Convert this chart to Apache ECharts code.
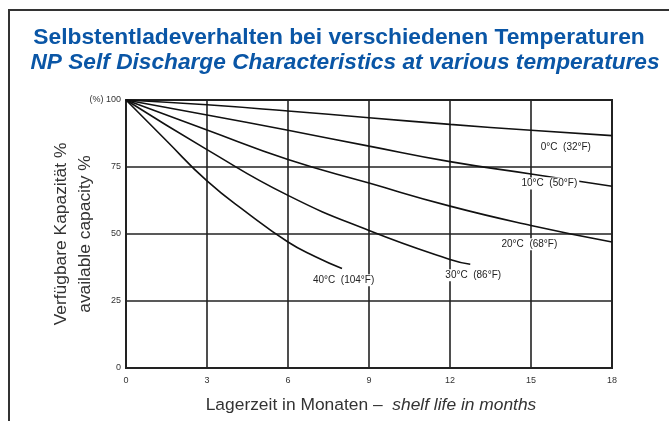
<!DOCTYPE html>
<html>
<head>
<meta charset="utf-8">
<script src="https://cdn.jsdelivr.net/npm/echarts@6/dist/echarts.min.js"></script>
<style>
  html, body { margin: 0; padding: 0; background: #fff; }
  #main { width: 669px; height: 421px; }
</style>
</head>
<body>
<div id="main"></div>
<script>
// Werte (Monate / Kapazität %)
var temps = ["0°C  (32°F)", "10°C  (50°F)", "20°C  (68°F)", "30°C  (86°F)", "40°C  (104°F)"];

var months0 = [0, 3, 6, 9, 12, 15, 18];
var cap0 = [100, 98.2, 95.9, 93.4, 90.9, 88.7, 86.7];

var months10 = [0, 3, 6, 9, 12, 15, 18];
var cap10 = [100, 94.4, 88.7, 82.8, 77.0, 72.4, 67.8];

var months20 = [0, 3, 6, 9, 12, 15, 18];
var cap20 = [100, 88.8, 77.8, 69.0, 60.4, 53.2, 47.0];

var months30 = [0, 3, 6, 9, 12, 12.75];
var cap30 = [100, 81.5, 64.4, 51.3, 40.5, 38.7];

var months40 = [0, 1.5, 3, 4.5, 6, 7, 8];
var cap40 = [100, 84.8, 69.8, 57.8, 47.0, 41.6, 37.1];

// Position der Beschriftungen (Monat, %)
var labelPos = [[16.29, 82.5], [15.68, 68.8], [14.94, 46.2], [12.86, 34.6], [8.06, 32.7]];

var xTicks = [0, 3, 6, 9, 12, 15, 18];
var yTicks = [0, 25, 50, 75, 100];

var myChart = echarts.init(document.getElementById("main"));

function pairs(xs, ys) {
  return xs.map(function (x, i) { return [x, ys[i]]; });
}

var allMonths = [months0, months10, months20, months30, months40];
var allCaps = [cap0, cap10, cap20, cap30, cap40];
var font = "Liberation Sans, Arial";

var series = allCaps.map(function (caps, i) {
  return {
    name: temps[i],
    type: "line",
    data: pairs(allMonths[i], caps),
    smooth: 0.5,
    symbol: "none",
    lineStyle: { color: "#111", width: 1.6 },
    z: 3,
    markPoint: {
      symbol: "rect",
      symbolSize: 0,
      data: [{ name: temps[i], coord: labelPos[i] }],
      label: {
        show: true,
        position: "inside",
        formatter: "{b}",
        fontFamily: font,
        fontSize: 10,
        color: "#222",
        backgroundColor: "#fff",
        padding: [1, 2]
      }
    }
  };
});

var blue = "#0a56a6";

var option = {
  animation: false,
  backgroundColor: "#fff",
  graphic: [
    {
      type: "rect",
      shape: { x: 9, y: 10, width: 700, height: 450 },
      style: { fill: null, stroke: "#333", lineWidth: 2 },
      silent: true
    },
    {
      type: "text",
      x: 339,
      y: 38,
      style: {
        text: "Selbstentladeverhalten bei verschiedenen Temperaturen",
        fill: blue,
        font: "bold 22.8px " + font,
        textAlign: "center",
        textVerticalAlign: "middle"
      }
    },
    {
      type: "text",
      x: 345,
      y: 63,
      style: {
        text: "NP Self Discharge Characteristics at various temperatures",
        fill: blue,
        font: "italic bold 22.7px " + font,
        textAlign: "center",
        textVerticalAlign: "middle"
      }
    }
  ],
  grid: {
    left: 126,
    right: 57,
    top: 100,
    bottom: 53,
    show: true,
    borderColor: "#222",
    borderWidth: 2
  },
  xAxis: {
    type: "value",
    min: 0,
    max: 18,
    interval: 3,
    name: "{a|Lagerzeit in Monaten –  }{b|shelf life in months}",
    nameLocation: "middle",
    nameGap: 29,
    nameMoveOverlap: false,
    nameTextStyle: {
      padding: [0, 0, 0, 4],
      rich: {
        a: { fontSize: 17.4, color: "#333", fontFamily: font },
        b: { fontSize: 17.4, color: "#333", fontStyle: "italic", fontFamily: font }
      }
    },
    axisLine: { show: true, lineStyle: { color: "#222", width: 2 } },
    axisTick: { show: false },
    axisLabel: {
      margin: 8,
      fontSize: 9,
      color: "#333",
      fontFamily: font,
      formatter: function (v) { return xTicks.indexOf(v) >= 0 ? String(v) : ""; }
    },
    splitLine: { show: true, lineStyle: { color: "#222", width: 1.6 } }
  },
  yAxis: {
    type: "value",
    min: 0,
    max: 100,
    interval: 25,
    name: "Verfügbare Kapazität %\navailable capacity %",
    nameLocation: "middle",
    nameRotate: 90,
    nameGap: 29,
    nameMoveOverlap: false,
    nameTextStyle: { fontSize: 17.4, color: "#333", lineHeight: 24, fontFamily: font },
    axisLine: { show: true, lineStyle: { color: "#222", width: 2 } },
    axisTick: { show: false },
    axisLabel: {
      margin: 5,
      fontSize: 9,
      color: "#333",
      fontFamily: font,
      formatter: function (v) {
        if (yTicks.indexOf(v) < 0) return "";
        return v === 100 ? "(%) 100" : String(v);
      }
    },
    splitLine: { show: true, lineStyle: { color: "#222", width: 1.6 } }
  },
  series: series
};

myChart.setOption(option);
</script>
</body>
</html>
